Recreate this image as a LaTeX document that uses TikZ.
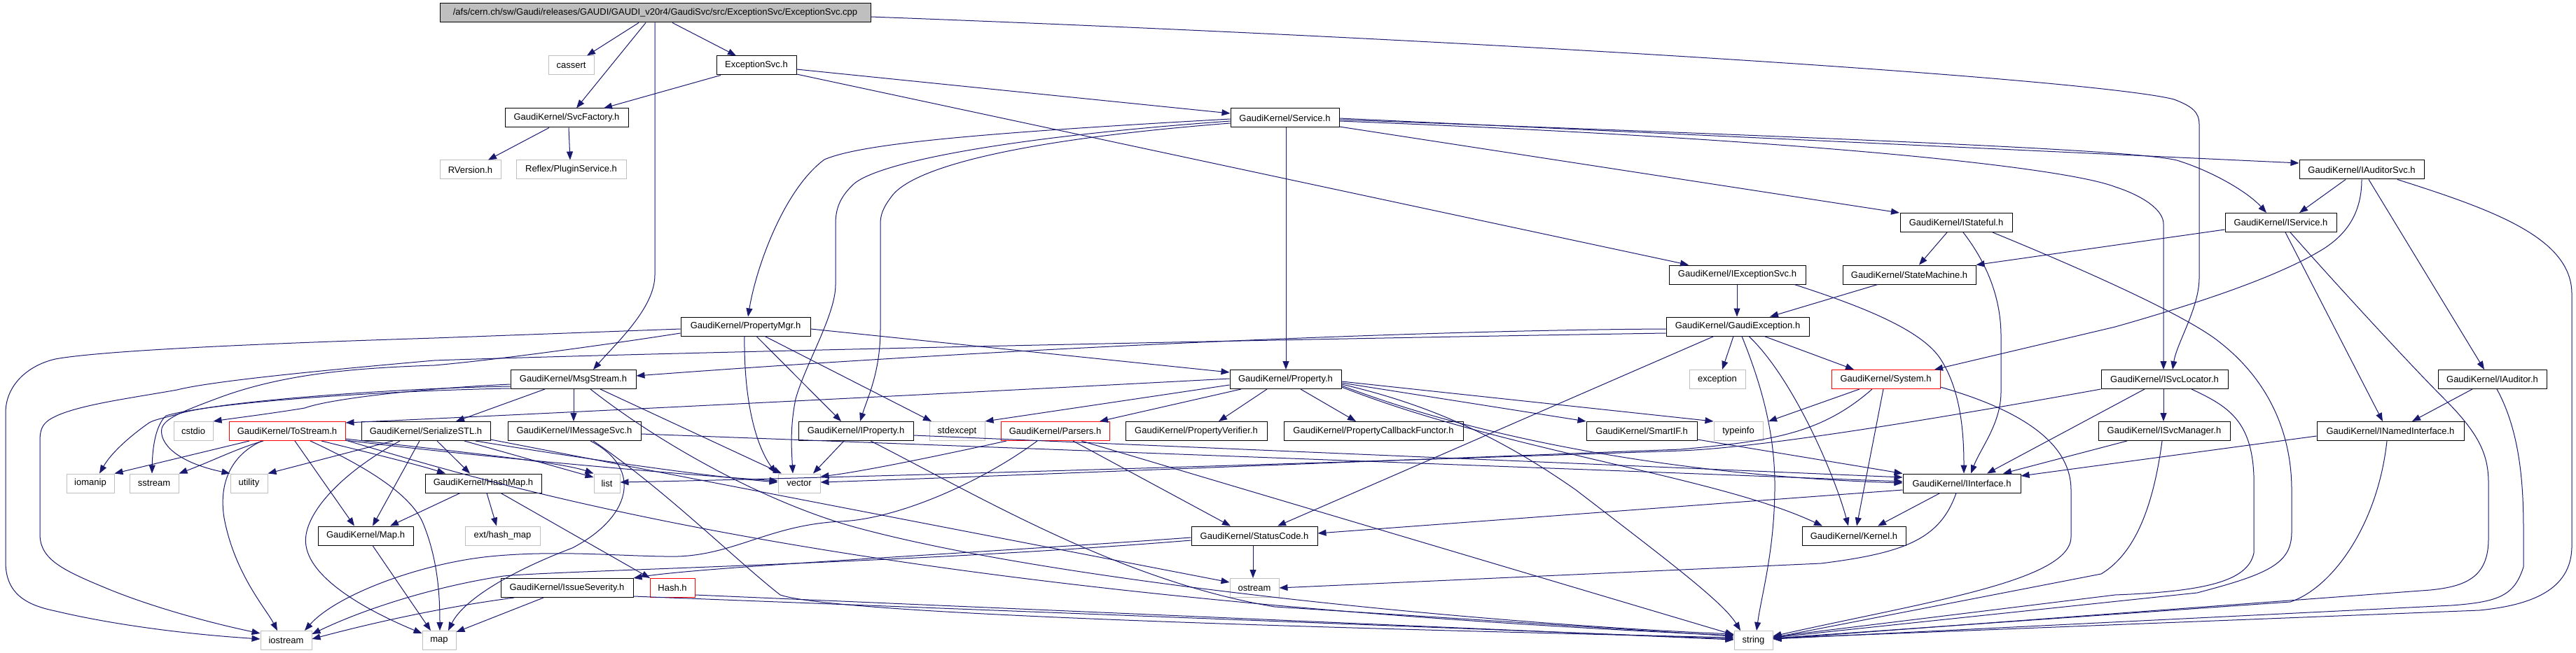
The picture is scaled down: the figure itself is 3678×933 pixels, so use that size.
\documentclass[tikz,border=0pt]{standalone}
\usepackage{fontspec}
\setmainfont{Liberation Sans}
\usetikzlibrary{arrows.meta}
\definecolor{edgec}{RGB}{25,25,112}
\definecolor{grayb}{RGB}{191,191,191}
\begin{document}
\begin{tikzpicture}[x=1pt,y=-1pt,
  box/.style={draw=black, line width=1pt, inner sep=0pt, minimum height=27pt, font=\fontsize{13}{15}\selectfont},
  sysbox/.style={box, draw=grayb},
  redbox/.style={box, draw=red},
  mainbox/.style={box, fill=grayb},
  e/.style={draw=edgec, line width=1pt, -{Triangle[length=12pt,width=9pt]}},
]
\useasboundingbox[fill=white] (0,0) rectangle (3678,933);
% ---------------- nodes
\node[mainbox, minimum width=615pt] (main) at (935.5,18.5) {/afs/cern.ch/sw/Gaudi/releases/GAUDI/GAUDI\_v20r4/GaudiSvc/src/ExceptionSvc/ExceptionSvc.cpp};
\node[sysbox, minimum width=65pt] (cassert) at (815.5,93.5) {cassert};
\node[box, minimum width=114pt] (excsvc) at (1080,93.5) {ExceptionSvc.h};
\node[box, minimum width=176pt] (svcfact) at (809,168.5) {GaudiKernel/SvcFactory.h};
\node[sysbox, minimum width=87pt] (rversion) at (671.5,242.5) {RVersion.h};
\node[sysbox, minimum width=157pt] (plugin) at (815.5,242.5) {Reflex/PluginService.h};
\node[box, minimum width=155pt] (service) at (1834.5,168.5) {GaudiKernel/Service.h};
\node[box, minimum width=178pt] (iauditorsvc) at (3372,242.5) {GaudiKernel/IAuditorSvc.h};
\node[box, minimum width=159pt] (iservice) at (3256.5,318) {GaudiKernel/IService.h};
\node[box, minimum width=160pt] (istateful) at (2793,318) {GaudiKernel/IStateful.h};
\node[box, minimum width=195pt] (iexcsvc) at (2480.5,392.5) {GaudiKernel/IExceptionSvc.h};
\node[box, minimum width=190pt] (statemach) at (2726,392.5) {GaudiKernel/StateMachine.h};
\node[box, minimum width=204pt] (gaudiexc) at (2481,466.5) {GaudiKernel/GaudiException.h};
\node[box, minimum width=185pt] (propmgr) at (1064.5,466.5) {GaudiKernel/PropertyMgr.h};
\node[box, minimum width=179pt] (msgstream) at (818.5,542) {GaudiKernel/MsgStream.h};
\node[box, minimum width=159pt] (property) at (1835.5,542) {GaudiKernel/Property.h};
\node[sysbox, minimum width=80pt] (exception) at (2452,542) {exception};
\node[redbox, minimum width=155pt] (system) at (2692.5,542) {GaudiKernel/System.h};
\node[box, minimum width=181pt] (isvcloc) at (3090.5,542) {GaudiKernel/ISvcLocator.h};
\node[box, minimum width=155pt] (iauditor) at (3558.5,542) {GaudiKernel/IAuditor.h};
\node[sysbox, minimum width=56pt] (cstdio) at (276,616) {cstdio};
\node[redbox, minimum width=166pt] (tostream) at (410,616) {GaudiKernel/ToStream.h};
\node[box, minimum width=184pt] (serial) at (608,616) {GaudiKernel/SerializeSTL.h};
\node[box, minimum width=190pt] (imsgsvc) at (820,616) {GaudiKernel/IMessageSvc.h};
\node[box, minimum width=164pt] (iproperty) at (1222,616) {GaudiKernel/IProperty.h};
\node[sysbox, minimum width=79pt] (stdexcept) at (1366.5,616) {stdexcept};
\node[redbox, minimum width=155pt] (parsers) at (1506.5,616) {GaudiKernel/Parsers.h};
\node[box, minimum width=202pt] (propverif) at (1708,616) {GaudiKernel/PropertyVerifier.h};
\node[box, minimum width=256pt] (propcb) at (1961,616) {GaudiKernel/PropertyCallbackFunctor.h};
\node[box, minimum width=158pt] (smartif) at (2344,616) {GaudiKernel/SmartIF.h};
\node[sysbox, minimum width=70pt] (typeinfo) at (2482,616) {typeinfo};
\node[box, minimum width=188pt] (isvcmgr) at (3090,616) {GaudiKernel/ISvcManager.h};
\node[box, minimum width=210pt] (inamed) at (3413,616) {GaudiKernel/INamedInterface.h};
\node[sysbox, minimum width=68pt] (iomanip) at (129,690.5) {iomanip};
\node[sysbox, minimum width=70pt] (sstream) at (220,690.5) {sstream};
\node[sysbox, minimum width=53pt] (utility) at (355.5,690.5) {utility};
\node[box, minimum width=166pt] (hashmap) at (690,690.5) {GaudiKernel/HashMap.h};
\node[sysbox, minimum width=37pt] (list) at (866.5,690.5) {list};
\node[sysbox, minimum width=60pt] (vector) at (1141,690.5) {vector};
\node[box, minimum width=168pt] (iinterface) at (2801,690.5) {GaudiKernel/IInterface.h};
\node[box, minimum width=136pt] (maph) at (522,765.5) {GaudiKernel/Map.h};
\node[sysbox, minimum width=107pt] (exthash) at (717.5,765.5) {ext/hash\_map};
\node[box, minimum width=180pt] (statuscode) at (1791,765.5) {GaudiKernel/StatusCode.h};
\node[box, minimum width=148pt] (kernel) at (2647,765.5) {GaudiKernel/Kernel.h};
\node[box, minimum width=189pt] (issuesev) at (809.5,840) {GaudiKernel/IssueSeverity.h};
\node[redbox, minimum width=64pt] (hash) at (960,840) {Hash.h};
\node[sysbox, minimum width=70pt] (ostream) at (1791,840) {ostream};
\node[sysbox, minimum width=73pt] (iostream) at (408.5,915) {iostream};
\node[sysbox, minimum width=48pt] (stdmap) at (627,915) {map};
\node[sysbox, minimum width=55pt] (string) at (2503.5,915) {string};
% ---------------- edges
% main
\draw[e] (main.south -| 912,0) -- (cassert.north -| 838,0);
\draw[e] (main.south -| 922,0) -- (svcfact.north -| 823,0);
\draw[e] (main.south -| 960,0) -- (excsvc.north -| 1051,0);
\draw[e] (main.south -| 935,0) -- (935,393) .. controls (935,440) and (880,490) .. (msgstream.north -| 847,0);
\draw[e] (main.east |- 0,24) .. controls (2200,60) and (3000,115) .. (3104,142) .. controls (3130,152) and (3140,160) .. (3140,178) -- (3140,397) .. controls (3140,440) and (3108,490) .. (isvcloc.north -| 3102,0);
% ExceptionSvc.h
\draw[e] (excsvc.south -| 1029,0) -- (svcfact.north -| 862,0);
\draw[e] (excsvc.east |- 0,99) -- (service.west |- 0,162);
\draw[e] (excsvc.east |- 0,106) -- (iexcsvc.north -| 2411,0);
% SvcFactory
\draw[e] (svcfact.south -| 784,0) -- (rversion.north -| 697,0);
\draw[e] (svcfact.south -| 812,0) -- (plugin.north -| 814,0);
% Service
\draw[e] (service.east |- 0,169) -- (iauditorsvc.west |- 0,233);
\draw[e] (service.east |- 0,171) .. controls (2700,200) and (3050,215) .. (3108,229) .. controls (3160,245) and (3210,275) .. (iservice.north -| 3236,0);
\draw[e] (service.east |- 0,173) .. controls (2600,200) and (2950,240) .. (3020,267) .. controls (3060,280) and (3089,300) .. (3089,320) -- (isvcloc.north -| 3089,0);
\draw[e] (service.east |- 0,181) -- (istateful.north -| 2712,0);
\draw[e] (service.west |- 0,170) .. controls (1400,190) and (1230,205) .. (1177,228) .. controls (1120,270) and (1080,380) .. (propmgr.north -| 1068,0);
\draw[e] (service.west |- 0,173) .. controls (1450,195) and (1260,230) .. (1220,262) .. controls (1198,282) and (1193,300) .. (1193,320) -- (1193,407) .. controls (1193,450) and (1150,520) .. (1136,570) .. controls (1128,610) and (1130,640) .. (vector.north -| 1132,0);
\draw[e] (service.west |- 0,176) .. controls (1450,200) and (1300,240) .. (1272,282) .. controls (1260,298) and (1257,308) .. (1257,320) -- (1257,470) .. controls (1257,530) and (1240,565) .. (iproperty.north -| 1228,0);
\draw[e] (service.south -| 1836,0) -- (property.north -| 1836,0);
% IAuditorSvc
\draw[e] (iauditorsvc.south -| 3349,0) -- (iservice.north -| 3283,0);
\draw[e] (iauditorsvc.south -| 3372,0) .. controls (3372,310) and (3345,340) .. (3310,360) .. controls (3250,395) and (3150,430) .. (3020,467) -- (system.north -| 2762,0);
\draw[e] (iauditorsvc.south -| 3382,0) -- (iauditor.north -| 3547,0);
\draw[e] (iauditorsvc.south -| 3423,0) .. controls (3560,300) and (3672,340) .. (3672,420) -- (3672,780) .. controls (3672,845) and (3610,865) .. (3540,872) -- (string.east |- 0,912);
% IService
\draw[e] (iservice.west |- 0,328) -- (statemach.north east);
\draw[e] (iservice.south -| 3263,0) -- (inamed.north -| 3402,0);
\draw[e] (iservice.south -| 3270,0) .. controls (3330,400) and (3440,520) .. (3490,570) .. controls (3540,620) and (3553,650) .. (3553,690) -- (3553,770) .. controls (3553,825) and (3520,838) .. (3470,843) -- (string.east |- 0,913);
% IStateful
\draw[e] (istateful.south -| 2780,0) -- (statemach.north -| 2740,0);
\draw[e] (istateful.south -| 2803,0) .. controls (2840,380) and (2857,430) .. (2857,480) -- (2857,560) .. controls (2857,605) and (2828,640) .. (iinterface.north -| 2814,0);
\draw[e] (istateful.south -| 2845,0) .. controls (2950,375) and (3100,440) .. (3160,482) .. controls (3240,540) and (3272,620) .. (3272,700) -- (3272,760) .. controls (3272,805) and (3240,820) .. (3137,847) -- (string.east |- 0,911);
% IExceptionSvc
\draw[e] (iexcsvc.south -| 2480,0) -- (gaudiexc.north -| 2480,0);
\draw[e] (iexcsvc.south -| 2562,0) .. controls (2650,435) and (2745,470) .. (2772,515) .. controls (2800,560) and (2804,620) .. (iinterface.north -| 2804,0);
% StateMachine
\draw[e] (statemach.south -| 2681,0) -- (gaudiexc.north -| 2527,0);
% GaudiException
\draw[e] (gaudiexc.south -| 2475,0) -- (exception.north -| 2459,0);
\draw[e] (gaudiexc.south -| 2487,0) .. controls (2515,550) and (2535,620) .. (2534,700) .. controls (2533,790) and (2515,850) .. (string.north -| 2508,0);
\draw[e] (gaudiexc.south -| 2497,0) .. controls (2560,540) and (2620,680) .. (kernel.north -| 2639,0);
\draw[e] (gaudiexc.south -| 2519,0) -- (system.north -| 2647,0);
\draw[e] (gaudiexc.south -| 2447,0) -- (statuscode.north -| 1824,0);
\draw[e] (gaudiexc.west |- 0,470) .. controls (2000,472) and (1400,500) .. (msgstream.east |- 0,537);
\draw[e] (gaudiexc.west |- 0,476) .. controls (1800,485) and (900,505) .. (620,515) .. controls (450,530) and (300,545) .. (253,557) .. controls (180,570) and (100,580) .. (70,600) .. controls (60,607) and (57,615) .. (57,630) -- (57,763) .. controls (57,800) and (90,815) .. (158,843) .. controls (220,868) and (300,890) .. (iostream.west |- 0,905);
% PropertyMgr
\draw[e] (propmgr.west |- 0,470) -- (620,483) .. controls (400,490) and (150,500) .. (79,513) .. controls (40,522) and (8,550) .. (8,590) -- (8,803) .. controls (8,850) and (40,865) .. (79,873) .. controls (150,890) and (250,905) .. (iostream.west |- 0,913);
\draw[e] (propmgr.west |- 0,476) .. controls (850,495) and (700,515) .. (620,522) .. controls (500,526) and (400,535) .. (308,570) .. controls (260,588) and (235,598) .. (231,612) .. controls (227,632) and (250,660) .. (utility.north west);
\draw[e] (propmgr.east |- 0,470) -- (property.west |- 0,532);
\draw[e] (propmgr.south -| 1092,0) -- (stdexcept.north -| 1330,0);
\draw[e] (propmgr.south -| 1080,0) -- (iproperty.north -| 1201,0);
\draw[e] (propmgr.south -| 1063,0) .. controls (1062,560) and (1075,630) .. (vector.north -| 1108,0);
% MsgStream
\draw[e] (msgstream.south -| 819,0) -- (imsgsvc.north -| 819,0);
\draw[e] (msgstream.south -| 778,0) -- (serial.north -| 651,0);
\draw[e] (msgstream.south -| 857,0) -- (vector.north -| 1116,0);
\draw[e] (msgstream.south -| 843,0) .. controls (950,640) and (1100,720) .. (1220,753) .. controls (1500,830) and (2100,890) .. (string.west |- 0,906);
\draw[e] (msgstream.west |- 0,549) .. controls (600,555) and (470,570) .. (435,583) .. controls (380,592) and (330,598) .. (cstdio.north east);
\draw[e] (msgstream.west |- 0,552) .. controls (550,555) and (300,575) .. (253,592) .. controls (230,598) and (220,600) .. (213,604) .. controls (190,620) and (160,645) .. (iomanip.north -| 142,0);
\draw[e] (msgstream.west |- 0,555) .. controls (550,558) and (300,575) .. (237,594) .. controls (225,605) and (218,630) .. (sstream.north -| 217,0);
% ToStream
\draw[e] (tostream.south -| 356,0) -- (iomanip.north east);
\draw[e] (tostream.south -| 376,0) .. controls (340,640) and (300,660) .. (sstream.north east);
\draw[e] (tostream.south -| 374,0) .. controls (330,650) and (312,690) .. (320,740) .. controls (335,820) and (380,870) .. (iostream.north -| 396,0);
\draw[e] (tostream.south -| 421,0) -- (maph.north -| 506,0);
\draw[e] (tostream.south -| 443,0) .. controls (530,670) and (590,710) .. (605,750) .. controls (625,800) and (628,850) .. (stdmap.north -| 628,0);
\draw[e] (tostream.south -| 459,0) .. controls (540,650) and (600,665) .. (hashmap.north -| 636,0);
\draw[e] (tostream.east |- 0,627) .. controls (650,645) and (800,660) .. (list.north west);
\draw[e] (tostream.east |- 0,629) .. controls (700,655) and (1000,680) .. (vector.west |- 0,687);
\draw[e] (tostream.east |- 0,629) .. controls (700,690) and (1200,850) .. (string.west |- 0,908);
% SerializeSTL
\draw[e] (serial.south -| 561,0) -- (utility.north east);
\draw[e] (serial.south -| 571,0) .. controls (480,680) and (430,740) .. (437,780) .. controls (445,830) and (530,875) .. (stdmap.west |- 0,905);
\draw[e] (serial.south -| 599,0) -- (maph.north -| 532,0);
\draw[e] (serial.south -| 624,0) -- (hashmap.north -| 671,0);
\draw[e] (serial.south -| 663,0) -- (list.west |- 0,682);
\draw[e] (serial.south -| 679,0) .. controls (800,650) and (1000,680) .. (vector.west |- 0,689);
\draw[e] (serial.east |- 0,628) -- (ostream.west |- 0,832);
% IMessageSvc
\draw[e] (imsgsvc.east |- 0,620) -- (iinterface.west |- 0,688);
\draw[e] (imsgsvc.south -| 843,0) .. controls (920,670) and (900,740) .. (817,783) .. controls (720,820) and (660,860) .. (stdmap.north -| 640,0);
\draw[e] (imsgsvc.south -| 847,0) .. controls (950,700) and (1050,800) .. (1114,850) .. controls (1200,880) and (2000,900) .. (string.west |- 0,911);
% HashMap
\draw[e] (hashmap.south -| 657,0) -- (maph.north -| 557,0);
\draw[e] (hashmap.south -| 695,0) -- (exthash.north -| 709,0);
\draw[e] (hashmap.south -| 715,0) -- (hash.north -| 928,0);
% Map
\draw[e] (maph.south -| 532,0) -- (stdmap.north -| 615,0);
% IProperty
\draw[e] (iproperty.south -| 1205,0) -- (vector.north -| 1161,0);
\draw[e] (iproperty.east |- 0,622) -- (iinterface.west |- 0,682);
\draw[e] (iproperty.south -| 1243,0) .. controls (1400,710) and (1600,830) .. (1820,867) -- (string.west |- 0,909);
% Parsers
\draw[e] (parsers.south -| 1437,0) .. controls (1300,660) and (1220,675) .. (vector.east |- 0,681);
\draw[e] (parsers.south -| 1481,0) .. controls (1400,690) and (1280,742) .. (1200,745) .. controls (1100,750) and (1050,792) .. (968,795) .. controls (900,796) and (800,785) .. (700,795) .. controls (600,805) and (480,850) .. (iostream.north -| 435,0);
\draw[e] (parsers.south -| 1532,0) -- (statuscode.north -| 1757,0);
\draw[e] (parsers.south -| 1544,0) -- (string.west |- 0,907);
% Property
\draw[e] (property.west |- 0,541) .. controls (1400,560) and (800,590) .. (tostream.east |- 0,604);
\draw[e] (property.west |- 0,550) -- (stdexcept.north east);
\draw[e] (property.south -| 1772,0) -- (parsers.north -| 1570,0);
\draw[e] (property.south -| 1809,0) -- (propverif.north -| 1740,0);
\draw[e] (property.south -| 1857,0) -- (propcb.north -| 1936,0);
\draw[e] (property.east |- 0,547) -- (smartif.north west);
\draw[e] (property.east |- 0,545) -- (typeinfo.north west);
\draw[e] (property.east |- 0,551) .. controls (2150,640) and (2450,682) .. (iinterface.west |- 0,690);
\draw[e] (property.east |- 0,553) .. controls (2150,645) and (2450,680) .. (kernel.north -| 2602,0);
\draw[e] (property.east |- 0,549) .. controls (2050,580) and (2150,630) .. (2250,700) .. controls (2380,800) and (2460,860) .. (string.north -| 2485,0);
% SmartIF
\draw[e] (smartif.east |- 0,628) -- (iinterface.north west);
% System
\draw[e] (system.south -| 2655,0) -- (typeinfo.north -| 2525,0);
\draw[e] (system.south -| 2689,0) -- (kernel.north -| 2651,0);
\draw[e] (system.east |- 0,553) .. controls (2900,590) and (2957,640) .. (2957,700) -- (2957,767) .. controls (2957,830) and (2750,860) .. (string.east |- 0,909);
\draw[e] (system.south -| 2673,0) .. controls (2600,620) and (2530,630) .. (2400,642) .. controls (1800,665) and (1300,685) .. (vector.east |- 0,689);
% ISvcLocator
\draw[e] (isvcloc.south -| 3089,0) -- (isvcmgr.north -| 3089,0);
\draw[e] (isvcloc.south -| 3062,0) -- (iinterface.north -| 2837,0);
\draw[e] (isvcloc.south -| 3129,0) .. controls (3180,580) and (3215,600) .. (3218,680) -- (3218,790) .. controls (3210,830) and (3150,845) .. (3020,850) -- (string.east |- 0,910);
\draw[e] (isvcloc.south west) .. controls (2700,610) and (2500,640) .. (2400,644) .. controls (1800,665) and (1100,685) .. (list.east |- 0,689);
% ISvcManager
\draw[e] (isvcmgr.south -| 3037,0) -- (iinterface.north -| 2860,0);
\draw[e] (isvcmgr.south -| 3087,0) .. controls (3075,720) and (3050,790) .. (3000,820) -- (string.east |- 0,911);
% INamedInterface
\draw[e] (inamed.west |- 0,623) -- (iinterface.east |- 0,680);
\draw[e] (inamed.south -| 3408,0) .. controls (3395,750) and (3330,840) .. (3270,860) -- (string.east |- 0,912);
% IAuditor
\draw[e] (iauditor.south -| 3530,0) -- (inamed.north -| 3444,0);
\draw[e] (iauditor.south -| 3565,0) .. controls (3600,620) and (3603,700) .. (3603,760) -- (3603,810) .. controls (3590,850) and (3570,860) .. (3500,865) -- (string.east |- 0,913);
% IInterface
\draw[e] (iinterface.south -| 2770,0) -- (kernel.north -| 2681,0);
\draw[e] (iinterface.west |- 0,700) -- (statuscode.east |- 0,762);
\draw[e] (iinterface.south -| 2793,0) .. controls (2770,770) and (2720,790) .. (2600,805) -- (ostream.east |- 0,840);
% StatusCode
\draw[e] (statuscode.south -| 1789,0) -- (ostream.north -| 1789,0);
\draw[e] (statuscode.west |- 0,768) .. controls (1400,790) and (1000,810) .. (issuesev.north east);
\draw[e] (statuscode.west |- 0,772) .. controls (1300,805) and (800,815) .. (719,823) .. controls (620,838) and (520,870) .. (iostream.east |- 0,906);
% IssueSeverity, Hash
\draw[e] (issuesev.south -| 734,0) .. controls (650,865) and (550,885) .. (iostream.east |- 0,913);
\draw[e] (issuesev.south -| 776,0) -- (stdmap.east |- 0,903);
\draw[e] (issuesev.east |- 0,852) -- (string.west |- 0,913);
\draw[e] (hash.east |- 0,850) -- (string.west |- 0,914);
\end{tikzpicture}
\end{document}
